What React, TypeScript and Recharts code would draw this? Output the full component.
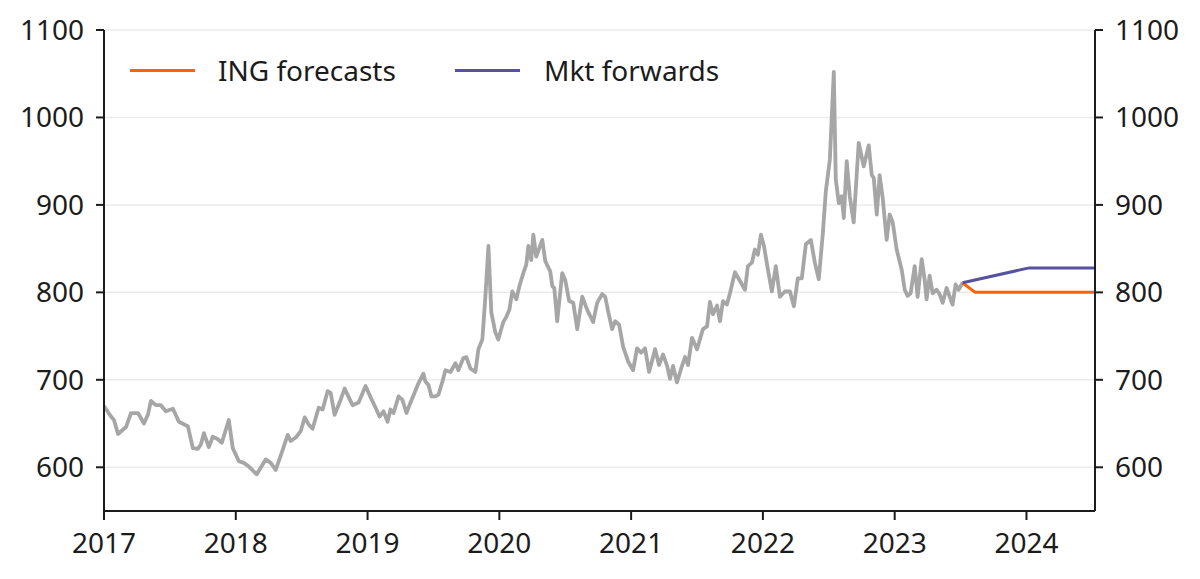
import React from 'react';
import { LineChart, Line, XAxis, YAxis, CartesianGrid } from 'recharts';

// weekly-ish price history (decimal years)
const histYears = [
  2017.0, 2017.053, 2017.076, 2017.106, 2017.167, 2017.205, 2017.258, 2017.303, 2017.333, 2017.356,
  2017.394, 2017.432, 2017.47, 2017.523, 2017.568, 2017.636, 2017.674, 2017.712, 2017.735, 2017.758,
  2017.795, 2017.826, 2017.864, 2017.894, 2017.947, 2017.977, 2018.023, 2018.061, 2018.098, 2018.159,
  2018.227, 2018.265, 2018.303, 2018.356, 2018.394, 2018.417, 2018.455, 2018.492, 2018.523, 2018.553,
  2018.583, 2018.629, 2018.659, 2018.697, 2018.72, 2018.75, 2018.795, 2018.826, 2018.886, 2018.932,
  2018.985, 2019.023, 2019.061, 2019.091, 2019.121, 2019.152, 2019.174, 2019.197, 2019.235, 2019.265,
  2019.295, 2019.326, 2019.356, 2019.386, 2019.424, 2019.439, 2019.462, 2019.485, 2019.515, 2019.538,
  2019.568, 2019.591, 2019.629, 2019.667, 2019.689, 2019.727, 2019.75, 2019.78, 2019.818, 2019.841,
  2019.871, 2019.894, 2019.917, 2019.939, 2019.97, 2019.992, 2020.03, 2020.053, 2020.076, 2020.098,
  2020.129, 2020.152, 2020.182, 2020.205, 2020.22, 2020.242, 2020.258, 2020.28, 2020.326, 2020.348,
  2020.386, 2020.402, 2020.417, 2020.439, 2020.477, 2020.5, 2020.53, 2020.561, 2020.591, 2020.629,
  2020.667, 2020.712, 2020.742, 2020.78, 2020.803, 2020.826, 2020.856, 2020.879, 2020.909, 2020.939,
  2020.977, 2021.015, 2021.045, 2021.076, 2021.106, 2021.136, 2021.182, 2021.212, 2021.242, 2021.273,
  2021.295, 2021.318, 2021.348, 2021.386, 2021.409, 2021.432, 2021.462, 2021.5, 2021.545, 2021.576,
  2021.598, 2021.621, 2021.652, 2021.674, 2021.697, 2021.727, 2021.75, 2021.788, 2021.826, 2021.864,
  2021.886, 2021.917, 2021.939, 2021.962, 2021.985, 2022.008, 2022.038, 2022.068, 2022.098, 2022.129,
  2022.167, 2022.205, 2022.235, 2022.265, 2022.295, 2022.326, 2022.364, 2022.394, 2022.424, 2022.455,
  2022.477, 2022.508, 2022.538, 2022.553, 2022.576, 2022.598, 2022.614, 2022.636, 2022.659, 2022.689,
  2022.727, 2022.765, 2022.803, 2022.826, 2022.841, 2022.864, 2022.886, 2022.909, 2022.939, 2022.962,
  2022.985, 2023.015, 2023.053, 2023.076, 2023.098, 2023.121, 2023.152, 2023.174, 2023.205, 2023.227,
  2023.242, 2023.265, 2023.288, 2023.318, 2023.341, 2023.364, 2023.394, 2023.417, 2023.439, 2023.462,
  2023.485, 2023.515,
];
const histPrice = [
  670, 658, 654, 638, 646, 662, 662, 650, 660, 676,
  671, 671, 664, 667, 652, 647, 622, 621, 626, 639,
  623, 635, 632, 628, 654, 622, 607, 605, 601, 592,
  609, 605, 597, 620, 637, 630, 634, 641, 657, 649,
  644, 668, 666, 687, 685, 660, 677, 690, 671, 674,
  693, 680, 668, 658, 664, 652, 666, 662, 681, 677,
  662, 674, 685, 696, 707, 698, 694, 681, 681, 683,
  698, 711, 709, 719, 711, 725, 726, 713, 709, 735,
  746, 795, 853, 777, 754, 746, 766, 772, 780, 801,
  792, 807, 822, 832, 853, 837, 866, 841, 860, 836,
  824, 807, 805, 767, 822, 814, 790, 788, 758, 795,
  780, 766, 788, 798, 795, 778, 758, 767, 763, 738,
  721, 711, 736, 731, 736, 709, 735, 717, 729, 716,
  701, 716, 697, 716, 726, 717, 748, 735, 758, 761,
  789, 775, 785, 767, 790, 786, 799, 823, 813, 803,
  830, 834, 849, 843, 866, 853, 826, 801, 830, 795,
  801, 801, 784, 816, 816, 855, 860, 834, 815, 868,
  915, 952, 1052, 929, 902, 910, 885, 950, 910, 880,
  971, 944, 968, 934, 931, 889, 934, 908, 860, 889,
  880, 849, 826, 803, 796, 799, 830, 795, 838, 815,
  792, 819, 799, 803, 798, 788, 805, 795, 786, 809,
  803, 811,
];

const ingYears = [2023.515, 2023.61, 2024.52];
const ingPrice = [811, 800, 800];
const fwdYears = [2023.515, 2024.02, 2024.52];
const fwdPrice = [811, 828, 828];

const yearTicks = [2017, 2018, 2019, 2020, 2021, 2022, 2023, 2024];
const priceTicks = [600, 700, 800, 900, 1000, 1100];

type Row = { t: number; price?: number; ing?: number; fwd?: number };

function buildRows(): Row[] {
  const map = new Map<number, Row>();
  const put = (t: number, key: 'price' | 'ing' | 'fwd', v: number) => {
    const row = map.get(t) ?? { t };
    row[key] = v;
    map.set(t, row);
  };
  histYears.forEach((t, i) => put(t, 'price', histPrice[i]));
  ingYears.forEach((t, i) => put(t, 'ing', ingPrice[i]));
  fwdYears.forEach((t, i) => put(t, 'fwd', fwdPrice[i]));
  return Array.from(map.values()).sort((a, b) => a.t - b.t);
}

const rows = buildRows();

const FONT = '"Noto Sans", sans-serif';
const INK = '#1c1c1c';
const ORANGE = '#ff6200';
const PURPLE = '#5651a0';
const GREY = '#a6a6a6';

const tickStyle = { fill: INK, fontSize: 28, fontFamily: FONT };

export default function App() {
  return (
    <div style={{ position: 'relative', width: 1192, height: 571, fontFamily: FONT }}>
      <LineChart width={1192} height={571} data={rows} margin={{ top: 22, right: 0, bottom: 8, left: 0 }}>
        <CartesianGrid vertical={false} stroke="#ebebeb" strokeWidth={1.5} yAxisId="left" />
        <XAxis
          dataKey="t"
          type="number"
          domain={[2017, 2024.52]}
          ticks={yearTicks}
          allowDataOverflow
          height={60}
          tickSize={9}
          tickMargin={13}
          tick={tickStyle}
          stroke={INK}
          strokeWidth={2}
        />
        <YAxis
          yAxisId="left"
          orientation="left"
          domain={[550, 1100]}
          ticks={priceTicks}
          allowDataOverflow
          width={96}
          tickSize={8}
          tickMargin={12}
          tick={tickStyle}
          stroke={INK}
          strokeWidth={2}
        />
        <YAxis
          yAxisId="right"
          orientation="right"
          domain={[550, 1100]}
          ticks={priceTicks}
          allowDataOverflow
          width={105}
          tickSize={8}
          tickMargin={12}
          tick={tickStyle}
          stroke={INK}
          strokeWidth={2}
        />
        <Line yAxisId="left" dataKey="price" stroke={GREY} strokeWidth={3.8} strokeLinejoin="round" dot={false} isAnimationActive={false} />
        <Line yAxisId="left" dataKey="ing" stroke={ORANGE} strokeWidth={3} dot={false} connectNulls isAnimationActive={false} />
        <Line yAxisId="left" dataKey="fwd" stroke={PURPLE} strokeWidth={3} dot={false} connectNulls isAnimationActive={false} />
      </LineChart>

      {/* legend overlay */}
      <div style={{ position: 'absolute', left: 122, top: 48, height: 28, display: 'flex', alignItems: 'center' }}>
        <span style={{ width: 65, height: 3, background: ORANGE, display: 'inline-block' }} />
        <span style={{ marginLeft: 23, fontSize: 28, lineHeight: '28px', color: INK }}>ING forecasts</span>
      </div>
      <div style={{ position: 'absolute', left: 447, top: 48, height: 28, display: 'flex', alignItems: 'center' }}>
        <span style={{ width: 65, height: 3, background: PURPLE, display: 'inline-block' }} />
        <span style={{ marginLeft: 24, fontSize: 28, lineHeight: '28px', color: INK }}>Mkt forwards</span>
      </div>
    </div>
  );
}
